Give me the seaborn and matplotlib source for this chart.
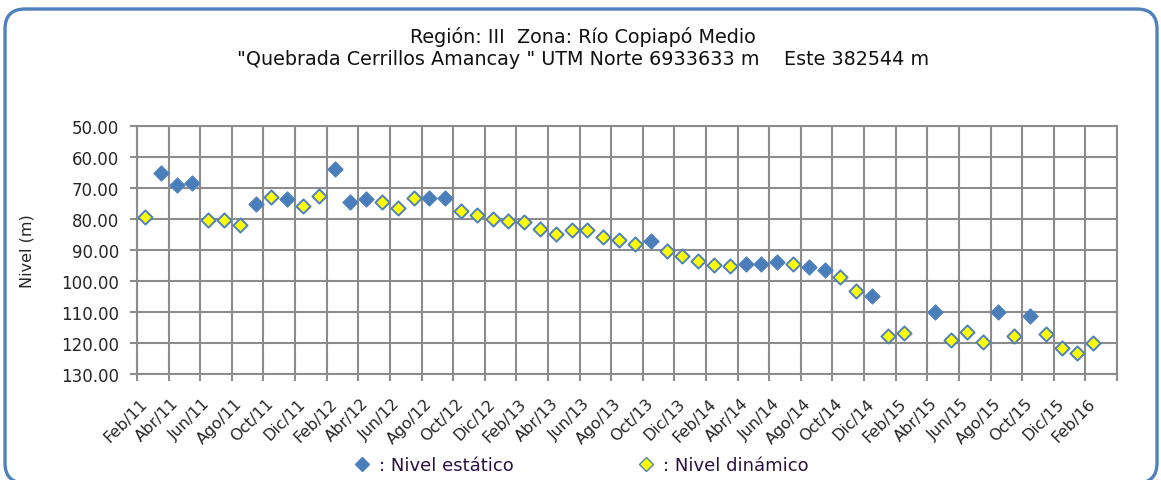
import matplotlib
matplotlib.use("Agg")
import matplotlib.pyplot as plt
from matplotlib.patches import FancyBboxPatch
from matplotlib.transforms import IdentityTransform
from matplotlib.lines import Line2D
import numpy as np
import pandas as pd
import seaborn as sns

# Monthly series, Feb/11 .. Feb/16 (61 months); None = no measurement of that type
nivel_estatico = [
    None, 65.3, 68.9, 68.4, None, None, None, 75.0, None, 73.7, None, None,   # Feb/11 - Jan/12
    63.9, 74.4, 73.7, None, None, None, 73.1, 73.3, None, None, None, None,   # Feb/12 - Jan/13
    None, None, None, None, None, None, None, None, 87.0, None, None, None,   # Feb/13 - Jan/14
    None, None, 94.4, 94.4, 94.0, None, 95.4, 96.3, None, None, 104.7, None,  # Feb/14 - Jan/15
    None, None, 109.9, None, None, None, 109.9, None, 111.4, None, None, None,  # Feb/15 - Jan/16
    None,                                                                      # Feb/16
]
nivel_dinamico = [
    79.5, None, None, None, 80.2, 80.2, 82.0, None, 72.8, None, 75.9, 72.6,   # Feb/11 - Jan/12
    None, None, None, 74.5, 76.5, 73.1, None, None, 77.3, 78.6, 79.9, 80.5,   # Feb/12 - Jan/13
    80.9, 83.2, 84.8, 83.4, 83.5, 85.9, 86.7, 88.1, None, 90.4, 91.8, 93.6,   # Feb/13 - Jan/14
    94.7, 95.3, None, None, None, 94.5, None, None, 98.7, 103.1, None, 117.8, # Feb/14 - Jan/15
    116.9, None, None, 118.9, 116.3, 119.6, None, 117.7, None, 117.2, 121.7, 123.1,  # Feb/15 - Jan/16
    120.1,                                                                     # Feb/16
]
tick_labels = [
    "Feb/11", "Abr/11", "Jun/11", "Ago/11", "Oct/11", "Dic/11",
    "Feb/12", "Abr/12", "Jun/12", "Ago/12", "Oct/12", "Dic/12",
    "Feb/13", "Abr/13", "Jun/13", "Ago/13", "Oct/13", "Dic/13",
    "Feb/14", "Abr/14", "Jun/14", "Ago/14", "Oct/14", "Dic/14",
    "Feb/15", "Abr/15", "Jun/15", "Ago/15", "Oct/15", "Dic/15",
    "Feb/16",
]
y_ticks = [50, 60, 70, 80, 90, 100, 110, 120, 130]

titulo = ('Región: III  Zona: Río Copiapó Medio\n'
          '"Quebrada Cerrillos Amancay " UTM Norte 6933633 m    Este 382544 m')

n = len(nivel_estatico)
df = pd.DataFrame({
    "mes": np.arange(n),
    "estatico": pd.array(nivel_estatico, dtype="Float64").astype(float),
    "dinamico": pd.array(nivel_dinamico, dtype="Float64").astype(float),
})

sns.set_style("white")
plt.rcParams["font.family"] = ["DejaVu Sans"]

W, H = 1161, 481
fig = plt.figure(figsize=(W / 100, H / 100), dpi=100)
ax = fig.add_axes([137 / W, 1 - 375 / H, (1117 - 137) / W, (375 - 127) / H])

azul = "#4a7ebb"
borde = "#4f81bd"
gris = "#8c8c8c"

sns.scatterplot(data=df, x="mes", y="estatico", ax=ax, marker="D", s=60,
                color=azul, edgecolor=borde, linewidth=0.8, zorder=3)
sns.scatterplot(data=df, x="mes", y="dinamico", ax=ax, marker="D", s=52,
                color="#ffff00", edgecolor=borde, linewidth=1.4, zorder=3)

ax.set_xlim(-0.5, n + 0.5)
ax.set_ylim(130, 50)

# grid lines sit on the month boundaries, labels on every second month
ax.set_xticks(np.arange(-0.5, n + 1, 2))
ax.set_xticklabels([])
ax.set_xticks(np.arange(0, n, 2), minor=True)
ax.set_xticklabels(tick_labels, minor=True, rotation=45, ha="right",
                   va="center", rotation_mode="anchor", fontsize=11.5)
ax.tick_params(axis="x", which="minor", length=0, pad=19)
ax.tick_params(axis="x", which="major", length=5, width=1.5, color=gris,
               direction="out", bottom=True)

ax.set_yticks(y_ticks)
ax.set_yticklabels([f"{v:.2f}" for v in y_ticks], fontsize=12)
ax.tick_params(axis="y", length=5, width=1.5, color=gris, direction="out",
               left=True, pad=8)

ax.grid(True, which="major", color=gris, linewidth=1.5)
ax.set_axisbelow(True)
for sp in ax.spines.values():
    sp.set_color(gris)
    sp.set_linewidth(1.5)

ax.set_xlabel("")
ax.set_ylabel("Nivel (m)", fontsize=11.5)
ax.yaxis.set_label_coords(-103 / (1117 - 137), 0.5)

fig.text(583 / W, 1 - 48 / H, titulo, ha="center", va="center",
         fontsize=13.8, linespacing=1.15, color="#111111")

# legend entries placed separately below the axis
entradas = [(azul, ": Nivel estático", 353), ("#ffff00", ": Nivel dinámico", 637)]
for color, texto, x0 in entradas:
    h = Line2D([], [], linestyle="none", marker="D", markersize=7,
               markerfacecolor=color, markeredgecolor=borde)
    fig.legend([h], [texto], loc="center left",
               bbox_to_anchor=(x0 / W, 1 - 466 / H), frameon=False,
               fontsize=13, handlelength=1.0, handletextpad=0.45,
               borderpad=0, borderaxespad=0, labelcolor="#2a1040")

marco = FancyBboxPatch((5, -3), W - 9, H - 3 - 4,
                       boxstyle="round,pad=0,rounding_size=20",
                       transform=IdentityTransform(), facecolor="none",
                       edgecolor=borde, linewidth=2.4)
fig.patches.append(marco)

fig.savefig("out.png", dpi=100)
